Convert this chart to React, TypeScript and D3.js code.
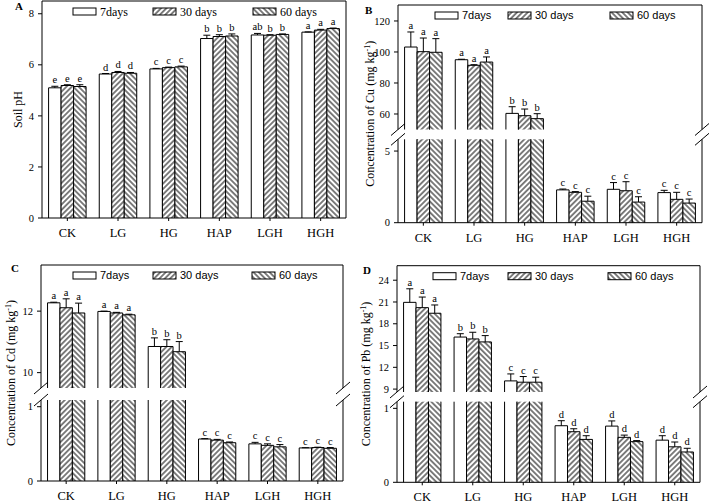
import React from 'react';
import * as d3 from 'd3';

const categories = ['CK', 'LG', 'HG', 'HAP', 'LGH', 'HGH'];
const seriesNames = ['7days', '30 days', '60 days'];

// Panel A - soil pH
const phMeans = [
  [5.10, 5.19, 5.15], [5.64, 5.70, 5.67], [5.84, 5.89, 5.92],
  [7.03, 7.11, 7.13], [7.17, 7.16, 7.19], [7.28, 7.36, 7.42],
];
const phErrors = [
  [0.06, 0.03, 0.07], [0.02, 0.04, 0.03], [0.02, 0.02, 0.03],
  [0.13, 0.07, 0.08], [0.06, 0.02, 0.02], [0.01, 0.03, 0.02],
];
const phLetters = [
  ['e', 'e', 'e'], ['d', 'd', 'd'], ['c', 'c', 'c'],
  ['b', 'b', 'b'], ['ab', 'b', 'b'], ['a', 'a', 'a'],
];

// Panel B - Cu
const cuMeans = [
  [103.2, 100.2, 99.8], [95.0, 91.4, 93.5], [60.4, 58.9, 57.0],
  [2.29, 2.12, 1.50], [2.33, 2.23, 1.44], [2.10, 1.63, 1.37],
];
const cuErrors = [
  [9.7, 8.8, 8.8], [0.3, 0.4, 3.3], [4.3, 4.3, 3.2],
  [0.06, 0.05, 0.35], [0.47, 0.63, 0.37], [0.16, 0.49, 0.28],
];
const cuLetters = [
  ['a', 'a', 'a'], ['a', 'a', 'a'], ['b', 'b', 'b'],
  ['c', 'c', 'c'], ['c', 'c', 'c'], ['c', 'c', 'c'],
];

// Panel C - Cd
const cdMeans = [
  [12.27, 12.11, 11.94], [11.99, 11.94, 11.88], [10.85, 10.85, 10.68],
  [0.565, 0.55, 0.515], [0.50, 0.48, 0.46], [0.445, 0.45, 0.44],
];
const cdErrors = [
  [0.02, 0.29, 0.32], [0.01, 0.02, 0.02], [0.28, 0.22, 0.33],
  [0.005, 0.01, 0.01], [0.02, 0.02, 0.03], [0.003, 0.005, 0.01],
];
const cdLetters = [
  ['a', 'a', 'a'], ['a', 'a', 'a'], ['b', 'b', 'b'],
  ['c', 'c', 'c'], ['c', 'c', 'c'], ['c', 'c', 'c'],
];

// Panel D - Pb
const pbMeans = [
  [20.95, 20.22, 19.45], [16.17, 15.91, 15.5], [10.13, 9.95, 9.95],
  [0.765, 0.684, 0.58], [0.76, 0.608, 0.55], [0.57, 0.48, 0.41],
];
const pbErrors = [
  [1.87, 1.46, 1.14], [0.46, 0.92, 0.87], [0.96, 0.78, 0.69],
  [0.068, 0.04, 0.05], [0.07, 0.03, 0.014], [0.06, 0.065, 0.05],
];
const pbLetters = [
  ['a', 'a', 'a'], ['b', 'b', 'b'], ['c', 'c', 'c'],
  ['d', 'd', 'd'], ['d', 'd', 'd'], ['d', 'd', 'd'],
];

const SERIF = '"Liberation Serif", "Times New Roman", serif';
const SANS = '"Liberation Sans", Arial, sans-serif';
const fills = ['#fff', 'url(#hatchFwd)', 'url(#hatchBack)'];

interface Seg {
  domain: [number, number];
  range: [number, number];
  ticks: number[];
}

interface PanelDef {
  label: string;
  labelPos: [number, number];
  title: React.ReactNode;
  titleX: number;
  left: number;
  right: number;
  top: number;
  bottom: number;
  segs: Seg[]; // lowest first
  means: number[][];
  errors: number[][];
  letters: string[][];
  legendFont: string;
  legendX: number[];
}

const unit = (el: string) => (
  <>
    Concentration of {el} (mg kg<tspan dy={-4} fontSize={8}>-1</tspan>
    <tspan dy={4}>)</tspan>
  </>
);

const panels: PanelDef[] = [
  {
    label: 'A', labelPos: [15, 10], title: 'Soil pH', titleX: 22,
    left: 42, right: 346, top: 1, bottom: 218,
    segs: [{ domain: [0, 8.5], range: [218, 1], ticks: [0, 2, 4, 6, 8] }],
    means: phMeans, errors: phErrors, letters: phLetters,
    legendFont: SERIF, legendX: [31, 111, 211],
  },
  {
    label: 'B', labelPos: [365, 13.5], title: unit('Cu'), titleX: 374,
    left: 398, right: 702, top: 5, bottom: 222.7,
    segs: [
      { domain: [0, 5.82], range: [222.7, 139.3], ticks: [0, 5] },
      { domain: [50, 130.3], range: [129.5, 5], ticks: [60, 80, 100, 120] },
    ],
    means: cuMeans, errors: cuErrors, letters: cuLetters,
    legendFont: SANS, legendX: [37, 110, 212],
  },
  {
    label: 'C', labelPos: [11, 272], title: unit('Cd'), titleX: 15,
    left: 41, right: 343, top: 265, bottom: 481,
    segs: [
      { domain: [0, 1.09], range: [481, 400], ticks: [0, 1] },
      { domain: [9.5, 13.5], range: [388, 265], ticks: [10, 12] },
    ],
    means: cdMeans, errors: cdErrors, letters: cdLetters,
    legendFont: SANS, legendX: [32, 112, 211],
  },
  {
    label: 'D', labelPos: [363, 273.5], title: unit('Pb'), titleX: 370,
    left: 397, right: 700, top: 265.7, bottom: 482.3,
    segs: [
      { domain: [0, 1.09], range: [482.3, 401.7], ticks: [0, 1] },
      { domain: [8.6, 26], range: [392, 265.7], ticks: [9, 12, 15, 18, 21, 24] },
    ],
    means: pbMeans, errors: pbErrors, letters: pbLetters,
    legendFont: SANS, legendX: [36, 111, 211],
  },
];

const Panel: React.FC<{ p: PanelDef }> = ({ p }) => {
  const x0 = d3.scaleBand<string>().domain(categories).range([p.left, p.right]);
  const groupW = x0.bandwidth() * 0.74;
  const x1 = d3.scaleBand<string>().domain(seriesNames).range([-groupW / 2, groupW / 2]);
  const bw = x1.bandwidth();
  const scales = p.segs.map((s) => d3.scaleLinear().domain(s.domain).range(s.range));

  // the segment a value's bar ends in
  const segOf = (v: number) => {
    for (let i = p.segs.length - 1; i >= 0; i--) {
      if (v > p.segs[i].domain[0]) return i;
    }
    return 0;
  };

  const broken = p.segs.length > 1;
  const yBreakLow = broken ? p.segs[0].range[1] : 0;
  const yBreakUp = broken ? p.segs[1].range[0] : 0;
  const slash = (cx: number, cy: number, k: string) => (
    <line key={k} x1={cx - 7} y1={cy + 6} x2={cx + 7} y2={cy - 6} stroke="#000" strokeWidth={1} />
  );
  const legendY = p.top + 10.5;

  return (
    <g>
      {/* bars */}
      {categories.map((c, ci) =>
        seriesNames.map((s, si) => {
          const v = p.means[ci][si];
          const e = p.errors[ci][si];
          const bx = (x0(c) as number) + x0.bandwidth() / 2 + (x1(s) as number);
          const top = segOf(v);
          const yTopVal = scales[top](v);
          const yErr = scales[top](v + e);
          const cx = bx + bw / 2;
          return (
            <g key={c + s}>
              {p.segs.map((sg, gi) => {
                if (v <= sg.domain[0] && gi > 0) return null;
                const ends = gi === top;
                const yT = ends ? scales[gi](v) : sg.range[1];
                const yB = sg.range[0];
                return (
                  <g key={gi}>
                    <rect x={bx} y={yT} width={bw} height={yB - yT} fill={fills[si]} />
                    <path
                      d={`M${bx},${yB}V${yT}${ends ? `H${bx + bw}` : `M${bx + bw},${yT}`}V${yB}`}
                      fill="none" stroke="#000" strokeWidth={1}
                    />
                  </g>
                );
              })}
              <path d={`M${cx},${yTopVal}V${yErr}M${cx - 3.5},${yErr}H${cx + 3.5}`} stroke="#000" strokeWidth={1} fill="none" />
              <text x={cx} y={yErr - 3} textAnchor="middle" fontFamily={SERIF} fontSize={10.5}>
                {p.letters[ci][si]}
              </text>
            </g>
          );
        })
      )}

      {/* frame */}
      <line x1={p.left} x2={p.right} y1={p.top} y2={p.top} stroke="#000" />
      <line x1={p.left} x2={p.right} y1={p.bottom} y2={p.bottom} stroke="#000" />
      {broken ? (
        <>
          {[p.left, p.right].map((xx) => (
            <g key={xx}>
              <line x1={xx} x2={xx} y1={p.top} y2={yBreakUp} stroke="#000" />
              <line x1={xx} x2={xx} y1={yBreakLow} y2={p.bottom} stroke="#000" />
              {slash(xx, yBreakUp, 'u')}
              {slash(xx, yBreakLow, 'l')}
            </g>
          ))}
        </>
      ) : (
        <>
          <line x1={p.left} x2={p.left} y1={p.top} y2={p.bottom} stroke="#000" />
          <line x1={p.right} x2={p.right} y1={p.top} y2={p.bottom} stroke="#000" />
        </>
      )}

      {/* y ticks */}
      {p.segs.map((sg, gi) =>
        sg.ticks.map((t) => {
          const y = scales[gi](t);
          return (
            <g key={`${gi}-${t}`}>
              <line x1={p.left - 4} x2={p.left} y1={y} y2={y} stroke="#000" />
              <text x={p.left - 8} y={y} dy="0.35em" textAnchor="end" fontFamily={SERIF} fontSize={10.5}>
                {t}
              </text>
            </g>
          );
        })
      )}

      {/* x ticks */}
      {categories.map((c) => {
        const cx = (x0(c) as number) + x0.bandwidth() / 2;
        return (
          <g key={c}>
            <line x1={cx} x2={cx} y1={p.bottom} y2={p.bottom + 3} stroke="#000" />
            <text x={cx} y={p.bottom + 19} textAnchor="middle" fontFamily={SERIF} fontSize={12.5}>
              {c}
            </text>
          </g>
        );
      })}

      {/* y title */}
      <text
        transform={`translate(${p.titleX},${(p.top + p.bottom) / 2}) rotate(-90)`}
        textAnchor="middle" fontFamily={SERIF} fontSize={12}
      >
        {p.title}
      </text>

      {/* panel label */}
      <text x={p.labelPos[0]} y={p.labelPos[1]} fontFamily={SERIF} fontWeight="bold" fontSize={11}>
        {p.label}
      </text>

      {/* legend */}
      {seriesNames.map((s, si) => {
        const lx = p.left + p.legendX[si];
        return (
          <g key={s}>
            <rect x={lx} y={legendY - 3.5} width={23} height={7} fill={fills[si]} stroke="#000" strokeWidth={1} />
            <text x={lx + 27} y={legendY} dy="0.35em" fontFamily={p.legendFont} fontSize={p.legendFont === SERIF ? 12 : 11}>
              {s}
            </text>
          </g>
        );
      })}
    </g>
  );
};

const App: React.FC = () => (
  <div style={{ position: 'absolute', left: 0, top: 0 }}>
    <svg width={709} height={504} style={{ display: 'block', background: '#fff' }}>
      <defs>
        <pattern id="hatchFwd" patternUnits="userSpaceOnUse" width={3.8} height={3.8} patternTransform="rotate(45)">
          <rect width={3.8} height={3.8} fill="#fff" />
          <line x1={1.9} y1={0} x2={1.9} y2={3.8} stroke="#000" strokeWidth={1} />
        </pattern>
        <pattern id="hatchBack" patternUnits="userSpaceOnUse" width={3.8} height={3.8} patternTransform="rotate(-45)">
          <rect width={3.8} height={3.8} fill="#fff" />
          <line x1={1.9} y1={0} x2={1.9} y2={3.8} stroke="#000" strokeWidth={1} />
        </pattern>
      </defs>
      {panels.map((p) => (
        <Panel key={p.label} p={p} />
      ))}
    </svg>
  </div>
);

export default App;
